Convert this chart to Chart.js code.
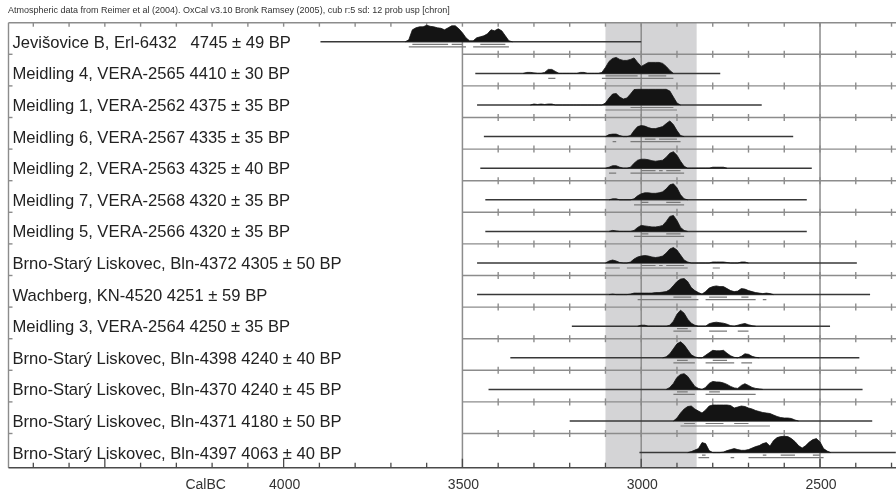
<!DOCTYPE html>
<html>
<head>
<meta charset="utf-8">
<script src="https://cdn.jsdelivr.net/npm/chart.js@4.4.1/dist/chart.umd.min.js"></script>
<style>
  html, body { margin: 0; padding: 0; background: #fff; }
  canvas { display: block; }
</style>
</head>
<body>
<canvas id="chart" width="896" height="495"></canvas>
<script>
// ==========================================
// DATA (years cal BC, densities in relative height units)
// ==========================================
const sampleNames = [
    'Jevišovice B, Erl-6432   4745 ± 49 BP',
    'Meidling 4, VERA-2565 4410 ± 30 BP',
    'Meidling 1, VERA-2562 4375 ± 35 BP',
    'Meidling 6, VERA-2567 4335 ± 35 BP',
    'Meidling 2, VERA-2563 4325 ± 40 BP',
    'Meidling 7, VERA-2568 4320 ± 35 BP',
    'Meidling 5, VERA-2566 4320 ± 35 BP',
    'Brno-Starý Liskovec, Bln-4372 4305 ± 50 BP',
    'Wachberg, KN-4520 4251 ± 59 BP',
    'Meidling 3, VERA-2564 4250 ± 35 BP',
    'Brno-Starý Liskovec, Bln-4398 4240 ± 40 BP',
    'Brno-Starý Liskovec, Bln-4370 4240 ± 45 BP',
    'Brno-Starý Liskovec, Bln-4371 4180 ± 50 BP',
    'Brno-Starý Liskovec, Bln-4397 4063 ± 40 BP'
];

// full extent of the thin line under each distribution
const rangeFrom = [3897, 3464, 3459, 3440, 3450, 3436, 3436, 3459, 3459, 3194, 3366, 3427, 3200, 3005];
const rangeTo   = [3000, 2779, 2663, 2575, 2523, 2537, 2537, 2397, 2360, 2472, 2390, 2381, 2354, 2288];

// first year of each density list, then one value every 10 years going later
const densityStart = [3660, 3330, 3310, 3100, 3100, 3090, 3090, 3100, 3090, 3010, 2940, 2930, 2910, 2870];
const densityValues = [
    [0,2,12,14,15,15,16.5,15.5,15,14, 13.5,12,14,16,16,13,9,4,1,1, 4,5,6,8,12,11,13,11,6,1, 0],
    [0,1,1,0.5,0,0,1,4,4,2, 0,0,0,0,0,0,1,1,0,0, 0,0,1,6,12,15,16,14,13,13, 14,15.5,11,7,9,11,11,11,11,10, 7,3,0],
    [0,1,0.5,1,0.5,1,1,0, 0,0,0,0,0,0,0,0,0,0,0,0,0, 2,7,11,11.5,8,6,7,11,15.5,15.7, 15.7,15.7,15.7,15.7,15.7,15.7,15.7,15.7,14,8,2,0],
    [0,2,2.5,2.5,1,0,0,1,6,10, 11,10.5,9,8,8,9,10,13,15.7,12, 6,1,0],
    [0,1,2.5,2.5,1,0,0,1,5,8, 9,9,8.5,7.5,7,7.5,8,11,15,16.5, 13,7,2,0,0,0,0,0,0,0, 1,1,1,1,0],
    [0,1,1,0,0,0,0,1,4,6, 7,7,6.5,6.5,7,8,11,15,16,12, 5,1,0],
    [0,1,0.5,0,0,0,0,1,4,6, 5.5,5,4.5,4.5,5,6,10,15,16,11, 4,1,0],
    [0,2,3,2,0.5,0,0,1,4,6, 7,7.5,7,6,5.5,6,7,10,14,15.5, 13,8,3,1,0,0,0,0,0,0, 1,1,1,1,0.5,0,0,0,1,1, 0],
    [0,0.5,0,0,0,0,0.5,1.5,1.5,1.5, 1.5,1.5,1.5,2,2,2.5,3,5,9,13, 15.5,16,13,7,4,2,0.5,3,6.5,8, 8.7,8,8,6,4,3,3.5,6,5.5,4, 3,2,1.5,1,1.5,1,0],
    [0,1,1,0,0,0,0,0,0,1, 5,12,16,13,7,3,1,0,0,0, 2.5,3.5,4,3.5,3,2,0.5,0,1,2, 2.7,1.5,0.5,0],
    [0,1,4,9,14,16,13,8,3,1, 0,0,2.5,5,7.5,7,7,7.5,4.5,2, 0.5,0,1.5,4,3.5,1.5,0.5,0],
    [0,2,6,12,15,15.7,13,8,3,1, 0,2,6,8,7.5,7.3,6.5,5,3,1.5, 1,4,5.7,4,2,1,0.5,0],
    [0,3,8,12,14.5,15,12,10,8,11, 15,16,16,16,16,16,15.5,13,14,15, 14.5,13,12,10.5,9.5,8.5,8,7.5,6,4.5, 3.5,3,3,2.5,1,0],
    [0,1,2.5,4,10,9,2,0,0,0, 0.5,2,3,4,3,2.3,2.3,3,4.5,6, 7,9,10,6.5,12,15,16,16.3,16,14, 11,7,4.5,7,10.5,13,14,10.7,4,1.5, 0]
];

// 68% and 95% ranges, as [from, to] pairs
const sigma1 = [
    [[3640,3540],[3530,3500],[3450,3380]],
    [[3100,3010],[2980,2930]],
    [[3030,2910]],
    [[2990,2960],[2950,2900]],
    [[3000,2960],[2950,2940],[2930,2890]],
    [[3000,2980],[2930,2890]],
    [[3000,2980],[2930,2890]],
    [[3000,2960],[2950,2940],[2930,2880]],
    [[2910,2860],[2810,2760],[2720,2700]],
    [[2900,2870]],
    [[2900,2870],[2800,2760]],
    [[2900,2870],[2810,2780]],
    [[2880,2850],[2820,2770],[2740,2700]],
    [[2830,2820],[2660,2650],[2610,2570],[2520,2500]]
];
const sigma2 = [
    [[3650,3490],[3470,3370]],
    [[3260,3240],[3110,2910]],
    [[3100,2900]],
    [[3080,3070],[3030,2890]],
    [[3090,3070],[3030,2880]],
    [[3020,2880]],
    [[3020,2880]],
    [[3100,3060],[3040,2870],[2800,2780]],
    [[3010,2840],[2820,2680],[2660,2650]],
    [[2910,2860],[2810,2760],[2730,2700]],
    [[2910,2850],[2820,2740],[2720,2690]],
    [[2910,2850],[2820,2680]],
    [[2890,2640]],
    [[2840,2810],[2750,2740],[2700,2490]]
];

const axisLabels = [4000, 3500, 3000, 2500];
const gridYears = [3500, 3000, 2500];
const bandFrom = 3100;
const bandTo = 2845;

// ==========================================
// LAYOUT HELPERS
// ==========================================
const ROW_PX = 31.6;
const PX = 1 / ROW_PX;          // one pixel in row units
const BASE_OFFSET = 0.605;      // baseline position inside a row

function rowBase(i) { return i + BASE_OFFSET; }

function segmentPoints(pairs, yv) {
    const pts = [];
    pairs.forEach(([a, b], k) => {
        if (k > 0) pts.push({ x: (a + pairs[k - 1][1]) / 2, y: null });
        pts.push({ x: a, y: yv }, { x: b, y: yv });
    });
    return pts;
}

const datasets = [];
sampleNames.forEach((name, i) => {
    const base = rowBase(i);
    datasets.push({
        label: name,
        data: densityValues[i].map((h, k) => ({ x: densityStart[i] - 10 * k, y: base - h * PX })),
        borderColor: '#141414',
        backgroundColor: '#141414',
        borderWidth: 0.8,
        fill: { value: base },
        pointRadius: 0,
        order: 1
    });
    datasets.push({
        data: [{ x: rangeFrom[i], y: base }, { x: rangeTo[i], y: base }],
        borderColor: '#383838',
        borderWidth: 1.5,
        fill: false,
        pointRadius: 0,
        order: 2
    });
    datasets.push({
        data: segmentPoints(sigma1[i], base + 2.5 * PX),
        borderColor: '#7a7a7a',
        borderWidth: 1.2,
        spanGaps: false,
        fill: false,
        pointRadius: 0,
        order: 3
    });
    datasets.push({
        data: segmentPoints(sigma2[i], base + 5 * PX),
        borderColor: '#7a7a7a',
        borderWidth: 1.2,
        spanGaps: false,
        fill: false,
        pointRadius: 0,
        order: 3
    });
});

// ==========================================
// FRAME / GRID / TEXT PLUGIN
// ==========================================
function line(ctx, x1, y1, x2, y2) {
    ctx.beginPath();
    ctx.moveTo(x1, y1);
    ctx.lineTo(x2, y2);
    ctx.stroke();
}

const oxcalFrame = {
    id: 'oxcalFrame',
    beforeDatasetsDraw(chart) {
        const { ctx, chartArea: area } = chart;
        const xs = chart.scales.x, ys = chart.scales.y;
        ctx.save();

        // shaded band
        const b1 = xs.getPixelForValue(bandFrom), b2 = xs.getPixelForValue(bandTo);
        ctx.fillStyle = '#d4d4d6';
        ctx.fillRect(b1, area.top, b2 - b1, area.bottom - area.top);

        // vertical grid lines
        ctx.strokeStyle = '#8c8c8c';
        ctx.lineWidth = 1.5;
        gridYears.forEach(yr => {
            const px = xs.getPixelForValue(yr);
            const top = yr === 3500 ? ys.getPixelForValue(rowBase(0)) - 2 : area.top;
            line(ctx, px, top, px, area.bottom);
        });

        // row separators with ticks
        const xStart = xs.getPixelForValue(3500);
        ctx.lineWidth = 1.4;
        for (let r = 1; r < sampleNames.length; r++) {
            const yy = ys.getPixelForValue(r);
            line(ctx, xStart, yy, area.right, yy);
            for (let yr = 3400; yr >= 2300; yr -= 100) {
                const px = xs.getPixelForValue(yr);
                line(ctx, px, yy - 3.5, px, yy + 3.5);
            }
            line(ctx, area.left, yy, area.left + 4, yy);
        }

        // top line of first row with ticks down
        line(ctx, area.left, area.top, area.right, area.top);
        for (let yr = 4700; yr >= 2300; yr -= 100) {
            const px = xs.getPixelForValue(yr);
            line(ctx, px, area.top, px, area.top + 4);
        }
        // left frame
        line(ctx, area.left, area.top, area.left, area.bottom);
        ctx.restore();
    },
    afterDatasetsDraw(chart) {
        const { ctx, chartArea: area } = chart;
        const xs = chart.scales.x, ys = chart.scales.y;
        ctx.save();

        // bottom axis, longer ticks every 500 years
        ctx.strokeStyle = '#4a4a4a';
        ctx.lineWidth = 1.6;
        line(ctx, area.left, area.bottom, area.right, area.bottom);
        ctx.lineWidth = 1.3;
        for (let yr = 4700; yr >= 2300; yr -= 100) {
            const px = xs.getPixelForValue(yr);
            line(ctx, px, area.bottom, px, area.bottom - (yr % 500 === 0 ? 9 : 5));
        }

        // row labels
        ctx.fillStyle = '#222';
        ctx.font = '16.6px "Liberation Sans", Arial, sans-serif';
        ctx.textBaseline = 'middle';
        ctx.textAlign = 'left';
        sampleNames.forEach((name, i) => {
            ctx.fillText(name, area.left + 4, ys.getPixelForValue(rowBase(i)) + 1.5);
        });

        // header
        ctx.fillStyle = '#333';
        ctx.font = '9px "Liberation Sans", Arial, sans-serif';
        ctx.fillText('Atmospheric data from Reimer et al (2004). OxCal v3.10 Bronk Ramsey (2005), cub r:5 sd: 12 prob usp [chron]', 8, 11);

        // axis text
        ctx.fillStyle = '#333';
        ctx.font = '14px "Liberation Sans", Arial, sans-serif';
        ctx.textAlign = 'center';
        const ty = area.bottom + 17;
        axisLabels.forEach(yr => ctx.fillText(String(yr), xs.getPixelForValue(yr) + 1, ty));
        ctx.fillText('CalBC', xs.getPixelForValue(4000) - 78, ty);
        ctx.restore();
    }
};

new Chart(document.getElementById('chart').getContext('2d'), {
    type: 'line',
    data: { datasets: datasets },
    options: {
        responsive: false,
        animation: false,
        devicePixelRatio: 1,
        layout: { padding: { left: 8.5, top: 22.7, right: 0, bottom: 27.3 } },
        scales: {
            x: { type: 'linear', reverse: true, min: 2287.5, max: 4769.4, display: false },
            y: { type: 'linear', reverse: true, min: 0, max: 445 / ROW_PX, display: false }
        },
        elements: { line: { tension: 0 }, point: { radius: 0 } },
        plugins: { legend: { display: false }, tooltip: { enabled: false } }
    },
    plugins: [oxcalFrame]
});
</script>
</body>
</html>
